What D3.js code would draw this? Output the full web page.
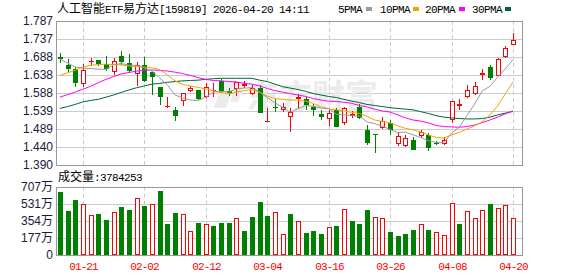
<!DOCTYPE html>
<html>
<head>
<meta charset="utf-8">
<script src="https://cdnjs.cloudflare.com/ajax/libs/d3/7.8.5/d3.min.js"></script>
<style>
  body { margin: 0; background: #fff; }
  svg { display: block; }
</style>
</head>
<body>
<div id="wrapper"></div>
<script>
// 1. Data
const dates = [
  "01-16","01-19","01-20","01-21","01-22","01-23","01-26","01-27","01-28","01-29","01-30",
  "02-02","02-03","02-04","02-05","02-06","02-09","02-10","02-11","02-12","02-13",
  "02-24","02-25","02-26","02-27",
  "03-02","03-03","03-04","03-05","03-06","03-09","03-10","03-11","03-12","03-13","03-16",
  "03-17","03-18","03-19","03-20","03-23","03-24","03-25","03-26","03-27","03-30","03-31",
  "04-01","04-02","04-03","04-07","04-08","04-09","04-10","04-13","04-14","04-15","04-16","04-17","04-20"
]
const opens = [1.689,1.666,1.655,1.612,1.673,1.679,1.668,1.647,1.691,1.671,1.640,1.666,1.647,1.605,1.549,1.542,1.566,1.595,1.597,1.578,
  1.593,1.622,1.593,1.599,1.608,1.585,1.601,1.510,1.549,1.542,1.522,1.571,1.571,1.551,1.531,1.516,1.543,1.505,1.524,1.551,
  1.487,1.475,1.491,1.507,1.448,1.442,1.459,1.471,1.473,1.450,1.447,1.513,1.553,1.578,1.585,1.638,1.660,1.635,1.689,1.721]
const highs = [1.700,1.681,1.659,1.668,1.686,1.680,1.691,1.684,1.704,1.697,1.675,1.688,1.647,1.605,1.577,1.551,1.588,1.609,1.598,1.617,
  1.616,1.626,1.601,1.620,1.622,1.611,1.611,1.546,1.571,1.562,1.546,1.586,1.577,1.558,1.542,1.542,1.546,1.549,1.539,1.557,
  1.500,1.475,1.522,1.514,1.482,1.473,1.468,1.486,1.477,1.455,1.468,1.566,1.572,1.611,1.620,1.655,1.667,1.684,1.718,1.754]
const lows = [1.672,1.647,1.606,1.605,1.664,1.662,1.649,1.637,1.667,1.643,1.609,1.620,1.584,1.556,1.548,1.511,1.553,1.590,1.569,1.576,
  1.577,1.588,1.580,1.579,1.601,1.583,1.533,1.509,1.536,1.537,1.482,1.547,1.542,1.525,1.514,1.498,1.494,1.500,1.519,1.516,
  1.445,1.424,1.488,1.473,1.442,1.440,1.430,1.465,1.429,1.444,1.445,1.507,1.542,1.576,1.583,1.624,1.623,1.634,1.684,1.721]
const closes = [1.681,1.655,1.617,1.652,1.677,1.668,1.656,1.676,1.675,1.648,1.667,1.622,1.632,1.578,1.552,1.525,1.588,1.602,1.571,1.604,
  1.596,1.594,1.589,1.618,1.613,1.601,1.534,1.512,1.548,1.551,1.537,1.577,1.555,1.542,1.523,1.534,1.496,1.547,1.531,1.519,
  1.451,1.474,1.511,1.487,1.470,1.464,1.431,1.480,1.438,1.448,1.459,1.566,1.558,1.597,1.608,1.643,1.631,1.681,1.712,1.735]
const prevClose = 1.700

// volume in 万 shares
const volumes = [649,454,567,522,410,423,362,440,492,464,584,505,522,659,321,430,420,246,328,318,
  300,328,328,379,246,389,546,400,440,215,420,348,225,246,215,287,297,471,348,318,
  461,389,379,236,195,215,256,318,256,236,205,533,318,451,379,461,522,481,512,379]

const ma5 = [1.682,1.671,1.660,1.657,1.656,1.654,1.654,1.666,1.670,1.665,1.665,1.657,1.649,1.630,1.611,1.583,1.575,1.569,1.568,1.577,
  1.591,1.593,1.591,1.600,1.602,1.603,1.591,1.576,1.562,1.549,1.536,1.545,1.554,1.552,1.547,1.546,1.530,1.528,1.526,1.525,
  1.509,1.504,1.497,1.488,1.479,1.481,1.473,1.466,1.457,1.452,1.451,1.478,1.494,1.526,1.558,1.594,1.607,1.632,1.655,1.680]
const ma10 = [1.637,1.644,1.651,1.660,1.665,1.667,1.668,1.667,1.666,1.663,1.661,1.660,1.658,1.653,1.638,1.622,1.612,1.608,1.604,1.600,
  1.595,1.589,1.586,1.591,1.595,1.598,1.591,1.580,1.573,1.571,1.569,1.569,1.566,1.560,1.550,1.544,1.542,1.539,1.535,1.532,
  1.524,1.514,1.510,1.506,1.498,1.491,1.487,1.481,1.473,1.466,1.464,1.473,1.480,1.489,1.498,1.509,1.528,1.553,1.586,1.619]
const ma20 = [1.577,1.584,1.591,1.599,1.607,1.617,1.626,1.634,1.641,1.645,1.649,1.651,1.652,1.651,1.649,1.646,1.642,1.637,1.631,1.626,
  1.623,1.622,1.620,1.619,1.615,1.613,1.608,1.601,1.595,1.591,1.587,1.583,1.579,1.573,1.569,1.566,1.565,1.563,1.560,1.554,
  1.550,1.544,1.539,1.536,1.528,1.520,1.514,1.511,1.506,1.499,1.496,1.495,1.494,1.496,1.500,1.507,1.514,1.522,1.531,1.539]
const ma30 = [1.546,1.551,1.557,1.564,1.568,1.571,1.577,1.583,1.590,1.597,1.603,1.608,1.613,1.615,1.618,1.620,1.622,1.623,1.624,1.626,
  1.628,1.629,1.629,1.629,1.629,1.629,1.624,1.620,1.613,1.606,1.602,1.598,1.593,1.587,1.583,1.579,1.576,1.571,1.566,1.562,
  1.557,1.554,1.551,1.548,1.546,1.544,1.542,1.537,1.532,1.526,1.522,1.520,1.518,1.517,1.517,1.518,1.522,1.528,1.533,1.538]

const priceTicks = ["1.787","1.737","1.688","1.638","1.588","1.539","1.489","1.440","1.390"]
const volumeTicks = ["707万","531万","354万","177万","0"]
const dateTicks = ["01-21","02-02","02-12","03-04","03-16","03-26","04-08","04-20"]
const maNames = ["5PMA","10PMA","20PMA","30PMA"]

const title = "人工智能ETF易方达[159819] 2026-04-20 14:11"
const volumeLabel = "成交量:3784253"

// 2. Dimensions
const dimensions = {
  width: 578,
  height: 276,
  left: 56,
  right: 522,
  priceTop: 21,
  priceBottom: 165,
  volTop: 186.5,
  volBottom: 255,
}
const upColor = "#ff0000"
const downColor = "#008000"
const maColors = ["#999999", "#f5a300", "#ff00ff", "#006633"]
const axisFont = "'Liberation Sans', Arial, sans-serif"
const monoFont = "'Liberation Mono', monospace"
const cjkFont = "'Noto Sans CJK SC', sans-serif"

// 3. Canvas
const svg = d3.select("#wrapper").append("svg")
    .attr("width", dimensions.width)
    .attr("height", dimensions.height)

// half-width / full-width text, like a Song-style bitmap font
const mixedText = (x, y, str) => {
  const runs = []
  for (const ch of str) {
    const wide = ch.charCodeAt(0) > 0x2e80
    const last = runs[runs.length - 1]
    if (last && last.wide === wide) last.text += ch
    else runs.push({ wide, text: ch })
  }
  const t = svg.append("text").attr("x", x).attr("y", y).attr("fill", "#000")
  runs.forEach(r => {
    t.append("tspan")
        .attr("font-family", r.wide ? cjkFont : monoFont)
        .attr("font-size", r.wide ? 12 : 11)
        .attr("letter-spacing", r.wide ? 0 : -0.6)
        .text(r.text)
  })
  return t
}

// 4. Scales
const xScale = d3.scaleBand()
    .domain(dates)
    .range([dimensions.left, dimensions.left + dates.length * 7.68])
const cx = d => Math.round(xScale(d) + xScale.bandwidth() / 2)

const yScale = d3.scaleLinear()
    .domain([1.390, 1.787])
    .range([dimensions.priceBottom, dimensions.priceTop])

const vScale = d3.scaleLinear()
    .domain([0, 707.3])
    .range([dimensions.volBottom, dimensions.volTop])

const snap = v => Math.round(v) + 0.5

// 5. Grid
const priceTickValues = priceTicks.map((t, i) => 1.787 - i * (1.787 - 1.390) / 8)
const volTickValues = volumeTicks.map((t, i) => 707.3 - i * 707.3 / 4)

const grid = svg.append("g")
grid.selectAll(".hgrid")
  .data(priceTickValues.slice(1, -1))
  .join("line")
    .attr("x1", dimensions.left).attr("x2", dimensions.right)
    .attr("y1", d => snap(yScale(d))).attr("y2", d => snap(yScale(d)))
    .attr("stroke", "#cccccc")
grid.selectAll(".vgridline")
  .data(volTickValues.slice(1, -1))
  .join("line")
    .attr("x1", dimensions.left).attr("x2", dimensions.right)
    .attr("y1", d => snap(vScale(d))).attr("y2", d => snap(vScale(d)))
    .attr("stroke", "#cccccc")

const dashed = grid.append("g")
dateTicks.forEach(t => {
  const x = cx(t) + 0.5
  dashed.append("line")
      .attr("x1", x).attr("x2", x)
      .attr("y1", dimensions.priceTop).attr("y2", dimensions.priceBottom)
      .attr("stroke", "#cccccc").attr("stroke-dasharray", "4,3")
  dashed.append("line")
      .attr("x1", x).attr("x2", x)
      .attr("y1", dimensions.volTop).attr("y2", dimensions.volBottom)
      .attr("stroke", "#cccccc").attr("stroke-dasharray", "4,3")
})

// watermark
svg.append("text")
    .attr("x", 246).attr("y", 108)
    .attr("font-family", cjkFont)
    .attr("font-weight", "bold")
    .attr("font-size", 33)
    .attr("fill", "#ebebeb")
    .text("东方财富")
svg.append("path")
    .attr("d", "M222,82 L236,82 L226,108 L214,108 Z M238,82 L246,82 L238,102 L230,102 Z")
    .attr("fill", "#ebebeb")

// 6. Candles
const candles = svg.append("g")
dates.forEach((d, i) => {
  const x = cx(d)
  const o = opens[i], c = closes[i]
  const up = c >= o
  const color = up ? upColor : downColor
  const top = Math.round(yScale(Math.max(o, c)))
  const bottom = Math.max(top + 1, Math.round(yScale(Math.min(o, c))))
  const hi = Math.round(yScale(highs[i]))
  const lo = Math.round(yScale(lows[i]))
  if (up) {
    if (hi < top) candles.append("line").attr("x1", x + 0.5).attr("x2", x + 0.5)
        .attr("y1", hi).attr("y2", top).attr("stroke", color)
    if (lo > bottom) candles.append("line").attr("x1", x + 0.5).attr("x2", x + 0.5)
        .attr("y1", bottom).attr("y2", lo).attr("stroke", color)
    candles.append("rect")
        .attr("x", x - 1.5).attr("y", top + 0.5)
        .attr("width", 4).attr("height", Math.max(bottom - top - 1, 0.01))
        .attr("fill", "#fff").attr("stroke", color)
  } else {
    candles.append("line").attr("x1", x + 0.5).attr("x2", x + 0.5)
        .attr("y1", hi).attr("y2", lo).attr("stroke", color)
    candles.append("rect")
        .attr("x", x - 2).attr("y", top)
        .attr("width", 5).attr("height", Math.max(bottom - top, 1))
        .attr("fill", color)
  }
})

// 7. Moving averages
const line = d3.line()
    .x((v, i) => xScale(dates[i]) + xScale.bandwidth() / 2)
    .y(v => yScale(v))
const maGroup = svg.append("g")
;[ma30, ma20, ma10, ma5].forEach((series, k) => {
  maGroup.append("path")
      .attr("d", line(series))
      .attr("fill", "none")
      .attr("stroke", maColors[3 - k])
      .attr("stroke-width", 1)
})

// 8. Volume bars (colour by close vs previous close)
const bars = svg.append("g")
dates.forEach((d, i) => {
  const x = cx(d)
  const prev = i === 0 ? prevClose : closes[i - 1]
  const up = closes[i] >= prev
  const top = Math.round(vScale(volumes[i]))
  if (up) {
    bars.append("rect")
        .attr("x", x - 1.5).attr("y", top + 0.5)
        .attr("width", 4).attr("height", dimensions.volBottom - top - 1)
        .attr("fill", "#fff").attr("stroke", upColor)
  } else {
    bars.append("rect")
        .attr("x", x - 2).attr("y", top)
        .attr("width", 5).attr("height", dimensions.volBottom - top)
        .attr("fill", downColor)
  }
})

// frames
const frame = svg.append("g").attr("fill", "none").attr("stroke", "#999999")
frame.append("rect")
    .attr("x", dimensions.left + 0.5).attr("y", dimensions.priceTop + 0.5)
    .attr("width", dimensions.right - dimensions.left).attr("height", dimensions.priceBottom - dimensions.priceTop)
frame.append("rect")
    .attr("x", dimensions.left + 0.5).attr("y", Math.round(dimensions.volTop) + 0.5)
    .attr("width", dimensions.right - dimensions.left).attr("height", dimensions.volBottom - Math.round(dimensions.volTop))

// 9. Axis labels
const axisColor = "#1a1a3a"
svg.append("g").selectAll("text")
  .data(priceTicks)
  .join("text")
    .attr("x", 53)
    .attr("y", (t, i) => yScale(priceTickValues[i]))
    .attr("dy", "0.36em")
    .attr("text-anchor", "end")
    .attr("font-family", axisFont).attr("font-size", 12)
    .attr("fill", axisColor)
    .text(t => t)

svg.append("g").selectAll("text")
  .data(volumeTicks)
  .join("text")
    .attr("x", 53)
    .attr("y", (t, i) => vScale(volTickValues[i]))
    .attr("dy", "0.36em")
    .attr("text-anchor", "end")
    .attr("font-family", "'Liberation Sans', 'Noto Sans CJK SC', sans-serif").attr("font-size", 12)
    .attr("fill", axisColor)
    .text(t => t)

svg.append("g").selectAll("text")
  .data(dateTicks)
  .join("text")
    .attr("x", t => cx(t) + 0.5)
    .attr("y", 270)
    .attr("text-anchor", "middle")
    .attr("font-family", monoFont).attr("font-size", 11)
    .attr("letter-spacing", -0.9)
    .attr("fill", upColor)
    .text(t => t)

// title + legend
mixedText(57, 13, title)

const legendX = [338, 380, 425, 472]
const legendSwatch = [366, 413, 459, 505]
maNames.forEach((name, i) => {
  svg.append("text")
      .attr("x", legendX[i]).attr("y", 13)
      .attr("font-family", monoFont).attr("font-size", 11)
      .attr("letter-spacing", -0.6)
      .attr("fill", "#000")
      .text(name)
  svg.append("rect")
      .attr("x", legendSwatch[i]).attr("y", 7)
      .attr("width", 6).attr("height", 4)
      .attr("fill", maColors[i])
})

mixedText(58, 181, volumeLabel)
</script>
</body>
</html>
